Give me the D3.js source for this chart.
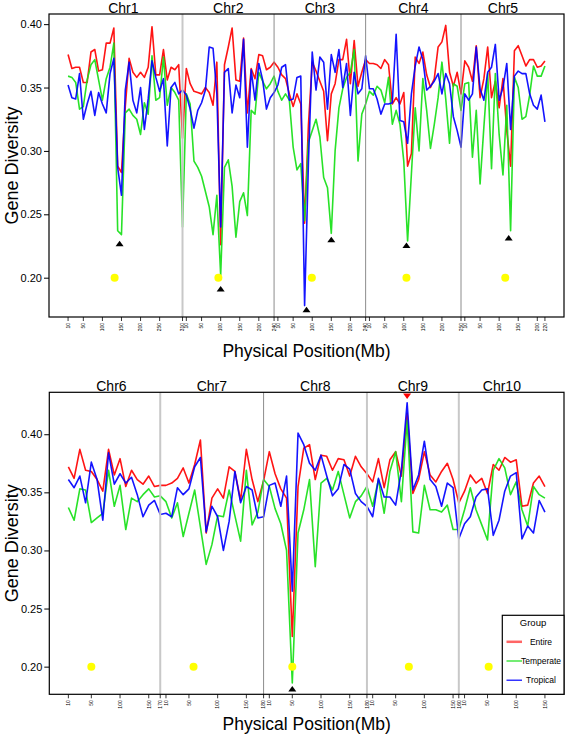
<!DOCTYPE html>
<html><head><meta charset="utf-8">
<script src="https://cdn.jsdelivr.net/npm/d3@7"></script>
<style>body{margin:0;background:#fff}svg{display:block;font-family:"Liberation Sans",Arial,sans-serif}</style>
</head><body><svg id="c" width="565" height="735"></svg>
<script>
// ---------- data ----------
const chromNames = ["Chr1","Chr2","Chr3","Chr4","Chr5","Chr6","Chr7","Chr8","Chr9","Chr10"];
const chromLengths = [310,240,240,250,220,170,180,180,160,150];
const windowStep = 10; // Mb windows
const tickLabels = [
  [10,50,100,150,200,250,310],[10,50,100,150,200,240],[10,50,100,150,200,240],
  [10,50,100,150,200,250],[10,50,100,150,200,220],
  [10,50,100,150,170],[10,50,100,150,180],[10,50,100,150,180],[10,50,100,150,160],[10,50,100,150]
];
const yTickValues = [0.20,0.25,0.30,0.35,0.40];

const entire1 = [0.376,0.365,0.366,0.366,0.354,0.354,0.378,0.380,0.363,0.364,0.385,0.385,0.397,0.288,0.283,0.335,0.373,0.362,0.358,0.362,0.358,0.366,0.398,0.360,0.360,0.380,0.356,0.366,0.364,0.368,0.310];
const temperate1 = [0.359,0.358,0.354,0.333,0.335,0.356,0.368,0.372,0.356,0.340,0.357,0.366,0.385,0.237,0.234,0.330,0.333,0.328,0.325,0.313,0.338,0.329,0.375,0.340,0.342,0.374,0.336,0.350,0.346,0.340,0.240];
const tropical1 = [0.352,0.342,0.341,0.361,0.325,0.337,0.347,0.328,0.346,0.337,0.330,0.361,0.373,0.287,0.265,0.348,0.370,0.340,0.330,0.350,0.317,0.341,0.371,0.358,0.347,0.357,0.304,0.350,0.354,0.345,0.348];

const entire2 = [0.365,0.353,0.347,0.346,0.345,0.350,0.346,0.336,0.370,0.226,0.368,0.382,0.397,0.356,0.355,0.389,0.330,0.365,0.357,0.376,0.375,0.364,0.366,0.370];
const temperate2 = [0.345,0.337,0.292,0.287,0.280,0.268,0.256,0.234,0.265,0.202,0.287,0.293,0.272,0.232,0.260,0.267,0.249,0.332,0.329,0.362,0.355,0.349,0.353,0.359];
const tropical2 = [0.344,0.333,0.318,0.332,0.338,0.348,0.382,0.381,0.345,0.240,0.362,0.365,0.330,0.352,0.342,0.388,0.303,0.364,0.340,0.369,0.356,0.333,0.342,0.346];

const entire3 = [0.366,0.360,0.357,0.345,0.335,0.345,0.337,0.243,0.320,0.370,0.363,0.355,0.347,0.308,0.345,0.353,0.372,0.372,0.388,0.353,0.387,0.351,0.362,0.372];
const temperate3 = [0.347,0.340,0.345,0.340,0.303,0.285,0.290,0.245,0.307,0.316,0.325,0.311,0.279,0.271,0.235,0.300,0.334,0.349,0.358,0.362,0.380,0.292,0.329,0.337];
const tropical3 = [0.352,0.366,0.368,0.340,0.341,0.358,0.359,0.178,0.290,0.378,0.348,0.374,0.370,0.333,0.376,0.362,0.380,0.350,0.369,0.328,0.362,0.345,0.349,0.375];

const entire4 = [0.369,0.369,0.368,0.365,0.372,0.368,0.337,0.342,0.337,0.346,0.288,0.298,0.374,0.369,0.378,0.360,0.350,0.357,0.382,0.386,0.399,0.362,0.351,0.362,0.345];
const temperate4 = [0.347,0.344,0.351,0.348,0.338,0.358,0.321,0.332,0.321,0.292,0.229,0.282,0.334,0.300,0.357,0.332,0.302,0.321,0.342,0.370,0.341,0.306,0.353,0.351,0.332];
const tropical4 = [0.349,0.349,0.341,0.329,0.337,0.337,0.338,0.392,0.324,0.323,0.306,0.345,0.367,0.382,0.372,0.348,0.351,0.355,0.361,0.345,0.361,0.353,0.327,0.316,0.303];

const entire5 = [0.371,0.366,0.355,0.383,0.342,0.357,0.382,0.342,0.355,0.334,0.357,0.316,0.288,0.379,0.383,0.375,0.367,0.372,0.372,0.366,0.367,0.371];
const temperate5 = [0.353,0.354,0.295,0.332,0.274,0.319,0.361,0.286,0.361,0.313,0.281,0.336,0.237,0.358,0.350,0.325,0.327,0.344,0.367,0.359,0.359,0.367];
const tropical5 = [0.345,0.340,0.345,0.382,0.349,0.340,0.362,0.366,0.384,0.340,0.350,0.369,0.317,0.359,0.363,0.361,0.361,0.345,0.336,0.333,0.344,0.323];

const entire6 = [0.372,0.362,0.387,0.369,0.368,0.361,0.351,0.387,0.365,0.379,0.355,0.369,0.361,0.357,0.364,0.355,0.356];
const temperate6 = [0.337,0.326,0.353,0.352,0.324,0.328,0.332,0.369,0.338,0.356,0.318,0.345,0.342,0.348,0.353,0.346,0.347];
const tropical6 = [0.361,0.354,0.364,0.341,0.376,0.361,0.326,0.384,0.357,0.366,0.358,0.363,0.348,0.329,0.339,0.343,0.331];

const entire7 = [0.356,0.358,0.362,0.371,0.358,0.374,0.395,0.315,0.345,0.353,0.345,0.372,0.368,0.343,0.387,0.361,0.342,0.360];
const temperate7 = [0.342,0.328,0.341,0.312,0.332,0.352,0.320,0.288,0.305,0.330,0.329,0.352,0.330,0.308,0.369,0.322,0.333,0.361];
const tropical7 = [0.332,0.329,0.354,0.348,0.353,0.372,0.380,0.316,0.338,0.329,0.300,0.325,0.368,0.341,0.355,0.352,0.328,0.329];

const entire8 = [0.385,0.366,0.353,0.345,0.226,0.355,0.388,0.391,0.361,0.382,0.381,0.369,0.379,0.378,0.364,0.381,0.372,0.366];
const temperate8 = [0.355,0.336,0.323,0.300,0.186,0.315,0.335,0.361,0.286,0.358,0.362,0.352,0.368,0.348,0.328,0.342,0.347,0.355];
const tropical8 = [0.356,0.358,0.338,0.364,0.265,0.401,0.391,0.375,0.369,0.382,0.364,0.347,0.353,0.374,0.370,0.349,0.342,0.338];

const entire9 = [0.359,0.379,0.354,0.378,0.385,0.364,0.418,0.349,0.361,0.385,0.365,0.359,0.368,0.375,0.361,0.341];
const temperate9 = [0.338,0.361,0.332,0.368,0.385,0.342,0.412,0.316,0.315,0.356,0.335,0.335,0.333,0.339,0.318,0.318];
const tropical9 = [0.329,0.362,0.346,0.346,0.339,0.369,0.427,0.352,0.365,0.394,0.361,0.355,0.338,0.358,0.354,0.310];

const entire10 = [0.351,0.365,0.358,0.362,0.349,0.374,0.369,0.380,0.376,0.378,0.338,0.339,0.358,0.364,0.355];
const temperate10 = [0.335,0.354,0.335,0.322,0.309,0.369,0.379,0.371,0.348,0.359,0.335,0.321,0.355,0.348,0.345];
const tropical10 = [0.323,0.329,0.346,0.352,0.353,0.313,0.326,0.351,0.364,0.367,0.310,0.321,0.315,0.343,0.333];

// markers: [chromosome index (0-based), position Mb, value]
const blackTriangles = [[0,145,0.2268],[1,100,0.1911],[2,85,0.1748],[2,150,0.2299],[3,107,0.2254],[4,125,0.2313],[7,50,0.1808]];
const redTriangles = [[8,70,0.433]];
const yellowDots = [[0,132],[1,94],[2,99],[3,107],[4,116],[5,50],[6,58],[7,50],[8,73],[9,52]];
const dotLevel = 0.20;

const groups = ["Entire","Temperate","Tropical"];
const groupColors = ["#ff0000","#16e016","#0000ff"];
const seriesByChrom = [
  [entire1,temperate1,tropical1],[entire2,temperate2,tropical2],[entire3,temperate3,tropical3],
  [entire4,temperate4,tropical4],[entire5,temperate5,tropical5],[entire6,temperate6,tropical6],
  [entire7,temperate7,tropical7],[entire8,temperate8,tropical8],[entire9,temperate9,tropical9],
  [entire10,temperate10,tropical10]
];

// ---------- drawing ----------
const svg = d3.select("#c");
const panels = [
  {chroms:[0,1,2,3,4], x0:49, x1:564, y0:14, y1:317, yDomain:[0.169,0.408], titleDy:40,
   sepStyle:[["#c8c8c8",2],["#8c8c8c",1],["#8c8c8c",1],["#8c8c8c",1]], legend:false},
  {chroms:[5,6,7,8,9], x0:49.3, x1:564, y0:392.3, y1:694.3, yDomain:[0.1762,0.4361], titleDy:35.5,
   sepStyle:[["#c8c8c8",2],["#8c8c8c",1],["#c8c8c8",2],["#c8c8c8",2]], legend:true}
];

panels.forEach(P => {
  const offsets = {};
  let cum = 0;
  P.chroms.forEach(c => { offsets[c] = cum; cum += chromLengths[c]; });
  const total = cum;
  const pad = (total - windowStep) * 0.04;
  const x = d3.scaleLinear().domain([windowStep - pad, total + pad]).range([P.x0, P.x1]);
  const y = d3.scaleLinear().domain(P.yDomain).range([P.y1, P.y0]);
  const g = svg.append("g");

  // series lines
  groups.forEach((grp, si) => {
    const pts = [];
    P.chroms.forEach(c => {
      seriesByChrom[c][si].forEach((v, i) => pts.push([offsets[c] + (i + 1) * windowStep, v]));
    });
    g.append("path").datum(pts)
      .attr("fill","none").attr("stroke",groupColors[si]).attr("stroke-width",1.6)
      .attr("stroke-linejoin","round").attr("opacity",0.92)
      .attr("d", d3.line().x(d => x(d[0])).y(d => y(d[1])));
  });

  // separators
  P.chroms.slice(1).forEach((c, k) => {
    const sx = x(offsets[c]);
    g.append("line").attr("x1",sx).attr("x2",sx).attr("y1",P.y0).attr("y2",P.y1)
      .attr("stroke",P.sepStyle[k][0]).attr("stroke-width",P.sepStyle[k][1]);
  });

  // yellow dots
  yellowDots.filter(d => offsets[d[0]] !== undefined).forEach(d => {
    g.append("circle").attr("cx", x(offsets[d[0]] + d[1])).attr("cy", y(dotLevel))
      .attr("r",4).attr("fill","#ffff00");
  });
  // triangles
  blackTriangles.filter(d => offsets[d[0]] !== undefined).forEach(d => {
    const cx = x(offsets[d[0]] + d[1]), cy = y(d[2]);
    g.append("path").attr("d",`M${cx-4},${cy+2.5}L${cx+4},${cy+2.5}L${cx},${cy-3}Z`).attr("fill","#000");
  });
  redTriangles.filter(d => offsets[d[0]] !== undefined).forEach(d => {
    const cx = x(offsets[d[0]] + d[1]), cy = y(d[2]);
    g.append("path").attr("d",`M${cx-4},${cy-2.5}L${cx+4},${cy-2.5}L${cx},${cy+3}Z`).attr("fill","#ff0000");
  });

  // frame
  g.append("rect").attr("x",P.x0).attr("y",P.y0).attr("width",P.x1-P.x0).attr("height",P.y1-P.y0)
    .attr("fill","none").attr("stroke","#000").attr("stroke-width",1.2);

  // y axis
  const ya = g.append("g").attr("transform",`translate(${P.x0},0)`)
    .call(d3.axisLeft(y).tickValues(yTickValues).tickFormat(d3.format(".2f")).tickSize(5).tickPadding(2));
  ya.select(".domain").remove();
  ya.selectAll("text").attr("font-size",11).attr("font-family","Liberation Sans, Arial").attr("fill","#000");

  // x ticks per chromosome
  P.chroms.forEach(c => {
    tickLabels[c].forEach(t => {
      const tx = x(offsets[c] + t);
      g.append("line").attr("x1",tx).attr("x2",tx).attr("y1",P.y1).attr("y2",P.y1+4).attr("stroke","#000").attr("stroke-width",0.8);
      g.append("text").attr("transform",`translate(${tx+1.8},${P.y1+6}) rotate(-90)`)
        .attr("text-anchor","end").attr("font-size",5).text(t);
    });
    // chromosome title
    g.append("text").attr("x", x(offsets[c] + chromLengths[c]/2)).attr("y", P.y0 - 1)
      .attr("text-anchor","middle").attr("font-size",14).text(chromNames[c]);
  });

  // axis titles
  g.append("text").attr("x",(P.x0+P.x1)/2).attr("y",P.y1+P.titleDy).attr("text-anchor","middle")
    .attr("font-size",17.5).text("Physical Position(Mb)");
  g.append("text").attr("transform",`translate(18,${(P.y0+P.y1)/2}) rotate(-90)`)
    .attr("text-anchor","middle").attr("font-size",18).text("Gene Diversity");

  if (P.legend) {
    const lx = 502.3, ly = 615.3;
    const lg = g.append("g");
    lg.append("rect").attr("x",lx).attr("y",ly).attr("width",P.x1-lx).attr("height",P.y1-ly)
      .attr("fill","#fff").attr("stroke","#000").attr("stroke-width",1.2);
    lg.append("text").attr("x",533).attr("y",ly+11).attr("text-anchor","middle").attr("font-size",9.5).text("Group");
    groups.forEach((grp, i) => {
      const yy = ly + 26.5 + i * 19.2;
      lg.append("line").attr("x1",506.5).attr("x2",522).attr("y1",yy).attr("y2",yy)
        .attr("stroke",groupColors[i]).attr("stroke-width", i === 0 ? 2.5 : 1.2).attr("opacity", i===0?0.6:1);
      lg.append("text").attr("x",541).attr("y",yy+3).attr("text-anchor","middle").attr("font-size",8.5).text(grp);
    });
  }
});
</script></body></html>
